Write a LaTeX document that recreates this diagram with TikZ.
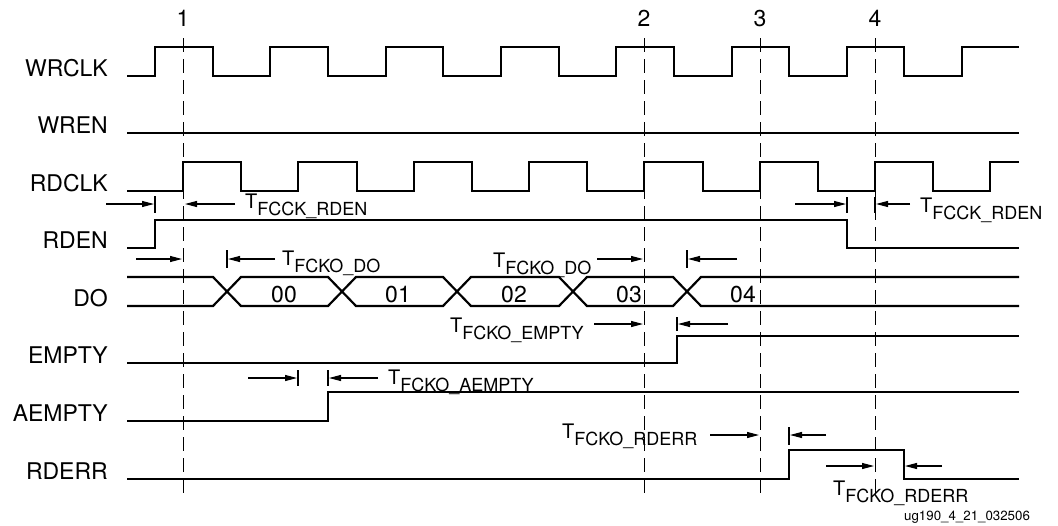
\documentclass[tikz,border=0pt]{standalone}
\usepackage{fontspec}
\setmainfont{TeX Gyre Heros}
\usetikzlibrary{arrows.meta}
\newcommand\tlabel[1]{{\fontsize{20}{20}\selectfont T\raisebox{-7pt}{\fontsize{18}{18}\selectfont #1}}}
\begin{document}
\begin{tikzpicture}[x=1pt,y=-1pt,
  sig/.style={line width=2.2pt,line join=miter},
  dim/.style={line width=1.1pt,-{Triangle[length=12pt,width=6pt]}},
  tick/.style={line width=1.1pt},
  guide/.style={line width=0.9pt,dash pattern=on 14pt off 7pt},
  lbl/.style={font=\fontsize{23}{23}\selectfont,inner sep=0,anchor=base east},
  num/.style={font=\fontsize{23}{23}\selectfont,inner sep=0,anchor=base},
  tl/.style={inner sep=0,anchor=base west}]
\useasboundingbox[fill=white] (0,0) rectangle (1058,525);

% signal names
\node[lbl] (nWRCLK) at (108,76) {WRCLK};
\node[lbl] (nWREN) at (108,133) {WREN};
\node[lbl] (nRDCLK) at (108,191) {RDCLK};
\node[lbl] (nRDEN) at (108,248) {RDEN};
\node[lbl] (nDO) at (108,306) {DO};
\node[lbl] (nEMPTY) at (108,363) {EMPTY};
\node[lbl] (nAEMPTY) at (108,421) {AEMPTY};
\node[lbl] (nRDERR) at (108,479) {RDERR};

% reference lines
\foreach \x/\n in {183/1,644/2,760/3,875/4}{
  \node[num] (m\n) at (\x,26) {\n};
  \draw[guide] (\x,38) -- (\x,497);
}

% WRCLK
\draw[sig] (127,76) -| (155,47) -| (213,76) -| (270,47) -| (328,76) -| (386,47) -| (443,76) -| (501,47) -| (559,76) -| (616,47) -| (674,76) -| (732,47) -| (789,76) -| (847,47) -| (904,76) -| (962,47) -- (1019,47);
% WREN
\draw[sig] (127,133) -- (1019,133);
% RDCLK
\draw[sig] (127,191) -| (183,162) -| (241,191) -| (298,162) -| (357,191) -| (414,162) -| (472,191) -| (529,162) -| (587,191) -| (644,162) -| (703,191) -| (760,162) -| (818,191) -| (875,162) -| (933,191) -| (990,162) -- (1019,162);
% RDEN
\draw[sig] (127,248) -| (155,220) -| (847,248) -- (1019,248);
% DO bus
\draw[sig] (127,277) -- (213,277) -- (241,306) -- (328,306) -- (356,277) -- (443,277) -- (471,306) -- (559,306) -- (587,277) -- (673,277) -- (701,306) -- (1019,306);
\draw[sig] (127,306) -- (213,306) -- (241,277) -- (328,277) -- (356,306) -- (443,306) -- (471,277) -- (559,277) -- (587,306) -- (673,306) -- (701,277) -- (1019,277);
\foreach \x/\v in {284/00,398/01,514/02,629/03,743/04}{
  \node[num] (d\v) at (\x,302) {\v};
}
% EMPTY
\draw[sig] (127,363) -| (677,336) -- (1019,336);
% AEMPTY
\draw[sig] (127,421) -| (328,392) -- (1019,392);
% RDERR
\draw[sig] (127,479) -| (789,450) -| (904,479) -- (1019,479);

% T_FCCK_RDEN (left)
\draw[dim] (106,204) -- (154,204);
\draw[tick] (155,196) -- (155,213);
\draw[dim] (235,204) -- (185,204);
\node[tl] (t1) at (245,208) {\tlabel{FCCK\_RDEN}};
% T_FCCK_RDEN (right)
\draw[dim] (795,204) -- (846,204);
\draw[tick] (847,197) -- (847,213);
\draw[tick] (875,197) -- (875,213);
\draw[dim] (910,204) -- (876,204);
\node[tl] (t2) at (920,212) {\tlabel{FCCK\_RDEN}};
% T_FCKO_DO (first)
\draw[dim] (136,259) -- (182,259);
\draw[tick] (227,250) -- (227,268);
\draw[dim] (275,259) -- (228,259);
\node[tl] (t3) at (282,265) {\tlabel{FCKO\_DO}};
% T_FCKO_DO (second)
\node[tl] (t4) at (493,267) {\tlabel{FCKO\_DO}};
\draw[dim] (597,259) -- (643,259);
\draw[tick] (687,250) -- (687,268);
\draw[dim] (737,259) -- (688,259);
% T_FCKO_EMPTY
\node[tl] (t5) at (450,332) {\tlabel{FCKO\_EMPTY}};
\draw[dim] (594,324) -- (643,324);
\draw[tick] (677,317) -- (677,331);
\draw[dim] (728,324) -- (678,324);
% T_FCKO_AEMPTY
\draw[dim] (248,378) -- (297,378);
\draw[tick] (298,370) -- (298,386);
\draw[tick] (328,370) -- (328,386);
\draw[dim] (378,378) -- (329,378);
\node[tl] (t6) at (388,384) {\tlabel{FCKO\_AEMPTY}};
% T_FCKO_RDERR (upper)
\node[tl] (t7) at (562,438) {\tlabel{FCKO\_RDERR}};
\draw[dim] (710,435) -- (759,435);
\draw[tick] (789,427) -- (789,445);
\draw[dim] (826,435) -- (790,435);
% T_FCKO_RDERR (lower)
\draw[dim] (826,466) -- (874,466);
\draw[dim] (942,466) -- (905,466);
\node[tl] (t8) at (833,495) {\tlabel{FCKO\_RDERR}};

% figure id
\node[inner sep=0,anchor=base west,font=\fontsize{13.3}{14}\selectfont] (fid) at (904,520) {ug190\_4\_21\_032506};
\end{tikzpicture}
\end{document}
